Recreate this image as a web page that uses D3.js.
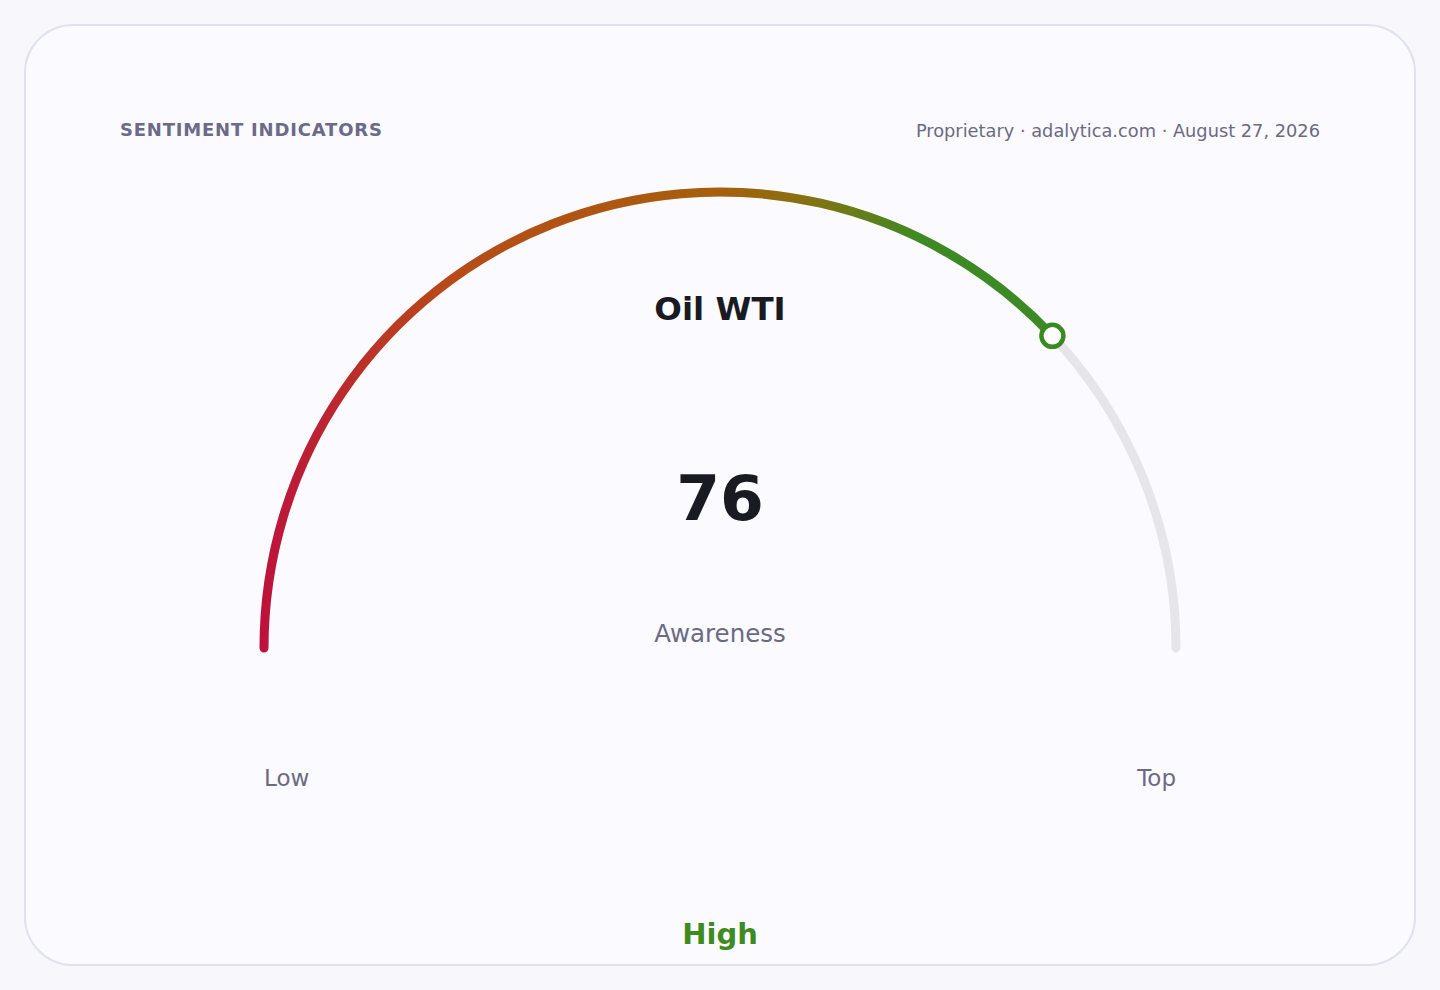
<!DOCTYPE html>
<html>
<head>
<meta charset="utf-8">
<script src="https://cdn.jsdelivr.net/npm/d3@7"></script>
<style>
  body { margin: 0; background: #f8f8fc; font-family: "DejaVu Sans", sans-serif; }
</style>
</head>
<body>
<div id="chart-area"></div>
<script>
// Gauge data
var title = "Oil WTI";
var metric = "Awareness";
var value = 76;
var domain = [0, 100];
var endLabels = ["Low", "Top"];
var bandLabel = "High";
var header = "SENTIMENT INDICATORS";
var source = "Proprietary · adalytica.com · August 27, 2026";
var gradientColors = ["#be123c", "#b84a18", "#a6600b", "#857212", "#3d8a24", "#3a8a24"];
var gradientStops = [0, 0.2, 0.5, 0.6, 0.72, 1];

var width = 1440, height = 990;
var cx = 720, cy = 648, r = 456;

var svg = d3.select("#chart-area")
    .append("svg")
        .attr("width", width)
        .attr("height", height);

// Card
svg.append("rect")
    .attr("x", 25).attr("y", 25)
    .attr("width", 1390).attr("height", 940)
    .attr("rx", 48)
    .attr("fill", "#fafaff")
    .attr("stroke", "#e1e1ee")
    .attr("stroke-width", 2);

// Header texts
svg.append("text")
    .attr("x", 120).attr("y", 136)
    .attr("font-size", "18px")
    .attr("font-weight", "bold")
    .attr("letter-spacing", "0.8px")
    .attr("fill", "#6b6a88")
    .text(header);

svg.append("text")
    .attr("x", 1320).attr("y", 137)
    .attr("text-anchor", "end")
    .attr("font-size", "17.8px")
    .attr("fill", "#6b6a82")
    .text(source);

// Angle scale
var angle = d3.scaleLinear()
    .domain(domain)
    .range([-Math.PI / 2, Math.PI / 2]);

function arcPath(v0, v1) {
    var p = d3.path();
    p.arc(cx, cy, r, angle(v0) - Math.PI / 2, angle(v1) - Math.PI / 2);
    return p.toString();
}

function pointAt(v) {
    return [cx + r * Math.sin(angle(v)), cy - r * Math.cos(angle(v))];
}

// Gradient across the whole gauge width
var start = pointAt(domain[0]), stop = pointAt(domain[1]), end = pointAt(value);
var grad = svg.append("defs").append("linearGradient")
    .attr("id", "fillGrad")
    .attr("gradientUnits", "userSpaceOnUse")
    .attr("x1", start[0]).attr("y1", 0)
    .attr("x2", stop[0]).attr("y2", 0);
grad.selectAll("stop")
    .data(gradientColors)
    .enter().append("stop")
        .attr("offset", function(d, i){ return gradientStops[i]; })
        .attr("stop-color", function(d){ return d; });

// Track
svg.append("path")
    .attr("d", arcPath(domain[0], domain[1]))
    .attr("fill", "none")
    .attr("stroke", "#e5e5ea")
    .attr("stroke-width", 9)
    .attr("stroke-linecap", "round");

// Value arc
svg.append("path")
    .attr("d", arcPath(domain[0], value))
    .attr("fill", "none")
    .attr("stroke", "url(#fillGrad)")
    .attr("stroke-width", 9)
    .attr("stroke-linecap", "round");

// Knob
svg.append("circle")
    .attr("cx", end[0]).attr("cy", end[1])
    .attr("r", 11)
    .attr("fill", "#ffffff")
    .attr("stroke", "#3a8a24")
    .attr("stroke-width", 4.5);

// Center texts
svg.append("text")
    .attr("x", cx).attr("y", 320)
    .attr("text-anchor", "middle")
    .attr("font-size", "32.5px")
    .attr("font-weight", "bold")
    .attr("fill", "#1a1a22")
    .text(title);

svg.append("text")
    .attr("x", cx).attr("y", 520)
    .attr("text-anchor", "middle")
    .attr("font-size", "63px")
    .attr("font-weight", "bold")
    .attr("fill", "#1a1a22")
    .text(value);

svg.append("text")
    .attr("x", cx).attr("y", 642)
    .attr("text-anchor", "middle")
    .attr("font-size", "24.5px")
    .attr("fill", "#6b6a82")
    .text(metric);

// End labels
svg.append("text")
    .attr("x", start[0]).attr("y", 786)
    .attr("font-size", "23px")
    .attr("fill", "#6b6a82")
    .text(endLabels[0]);

svg.append("text")
    .attr("x", stop[0]).attr("y", 786)
    .attr("text-anchor", "end")
    .attr("font-size", "23px")
    .attr("fill", "#6b6a82")
    .text(endLabels[1]);

// Band label
svg.append("text")
    .attr("x", cx).attr("y", 944)
    .attr("text-anchor", "middle")
    .attr("font-size", "29px")
    .attr("font-weight", "bold")
    .attr("fill", "#3f8b22")
    .text(bandLabel);
</script>
</body>
</html>
